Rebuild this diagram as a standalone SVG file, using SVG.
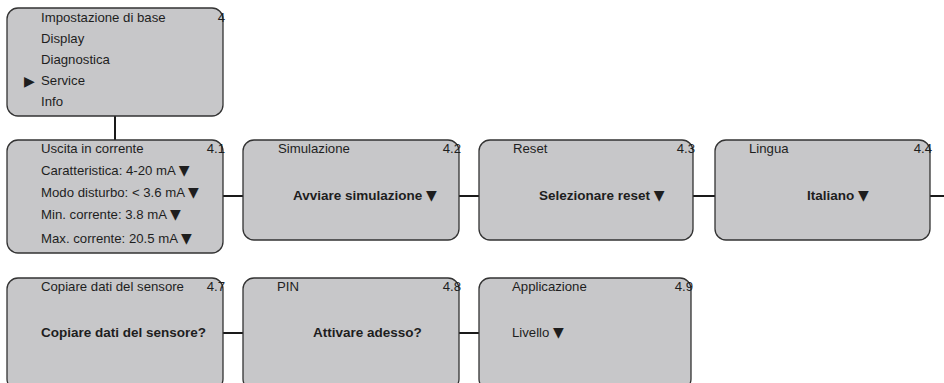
<svg xmlns="http://www.w3.org/2000/svg" width="944" height="383" viewBox="0 0 944 383">
<style>
.box{fill:#c7c7c9;stroke:#333;stroke-width:1.3}
.t{font-family:"Liberation Sans",Arial,"DejaVu Sans",sans-serif;font-size:13.2px;fill:#1e1e1e}
.b{font-weight:bold;font-size:13.5px}
.n{text-anchor:end}
.c{stroke:#1a1a1a;stroke-width:2;fill:none}
.tri{font-family:"DejaVu Sans",sans-serif;font-size:14px;fill:#1e1e1e}
</style>
<rect width="944" height="383" fill="#fff"/>
<g id="connectors">
<line class="c" x1="115" y1="116" x2="115" y2="140"/>
<line class="c" x1="223" y1="196" x2="243" y2="196"/>
<line class="c" x1="459" y1="196" x2="479" y2="196"/>
<line class="c" x1="693" y1="196" x2="715" y2="196"/>
<line class="c" x1="930" y1="196" x2="944" y2="196"/>
<line class="c" x1="223" y1="333" x2="243" y2="333"/>
<line class="c" x1="459" y1="333" x2="479" y2="333"/>
</g>
<g id="n4">
<rect class="box" x="7" y="8" width="216" height="108" rx="11"/>
<text class="t" x="41" y="22">Impostazione di base</text>
<text class="t n" x="225" y="22">4</text>
<text class="t" x="41" y="43">Display</text>
<text class="t" x="41" y="64">Diagnostica</text>
<text class="tri" x="24" y="86">▶</text>
<text class="t" x="41" y="85">Service</text>
<text class="t" x="41" y="106">Info</text>
</g>
<g id="n41">
<rect class="box" x="7" y="140" width="216" height="113" rx="11"/>
<text class="t" x="41" y="153">Uscita in corrente</text>
<text class="t n" x="225" y="153">4.1</text>
<text class="t" x="41" y="175">Caratteristica: 4-20 mA <tspan class="tri">▼</tspan></text>
<text class="t" x="41" y="197">Modo disturbo: &lt; 3.6 mA <tspan class="tri">▼</tspan></text>
<text class="t" x="41" y="219">Min. corrente: 3.8 mA <tspan class="tri">▼</tspan></text>
<text class="t" x="41" y="243">Max. corrente: 20.5 mA <tspan class="tri">▼</tspan></text>
</g>
<g id="n42">
<rect class="box" x="243" y="140" width="216" height="100" rx="11"/>
<text class="t" x="278" y="153">Simulazione</text>
<text class="t n" x="461" y="153">4.2</text>
<text class="t b" x="293" y="200">Avviare simulazione <tspan class="tri">▼</tspan></text>
</g>
<g id="n43">
<rect class="box" x="479" y="140" width="214" height="100" rx="11"/>
<text class="t" x="513" y="153">Reset</text>
<text class="t n" x="695" y="153">4.3</text>
<text class="t b" x="539" y="200">Selezionare reset <tspan class="tri">▼</tspan></text>
</g>
<g id="n44">
<rect class="box" x="715" y="140" width="215" height="100" rx="11"/>
<text class="t" x="749" y="153">Lingua</text>
<text class="t n" x="932" y="153">4.4</text>
<text class="t b" x="807" y="200">Italiano <tspan class="tri">▼</tspan></text>
</g>
<g id="n47">
<rect class="box" x="7" y="278" width="216" height="112" rx="11"/>
<text class="t" x="41" y="291">Copiare dati del sensore</text>
<text class="t n" x="225" y="291">4.7</text>
<text class="t b" x="41" y="337">Copiare dati del sensore?</text>
</g>
<g id="n48">
<rect class="box" x="243" y="278" width="216" height="112" rx="11"/>
<text class="t" x="277" y="291">PIN</text>
<text class="t n" x="461" y="291">4.8</text>
<text class="t b" x="313" y="337">Attivare adesso?</text>
</g>
<g id="n49">
<rect class="box" x="479" y="278" width="212" height="112" rx="11"/>
<text class="t" x="512" y="291">Applicazione</text>
<text class="t n" x="693" y="291">4.9</text>
<text class="t" x="512" y="337">Livello <tspan class="tri">▼</tspan></text>
</g>
</svg>
